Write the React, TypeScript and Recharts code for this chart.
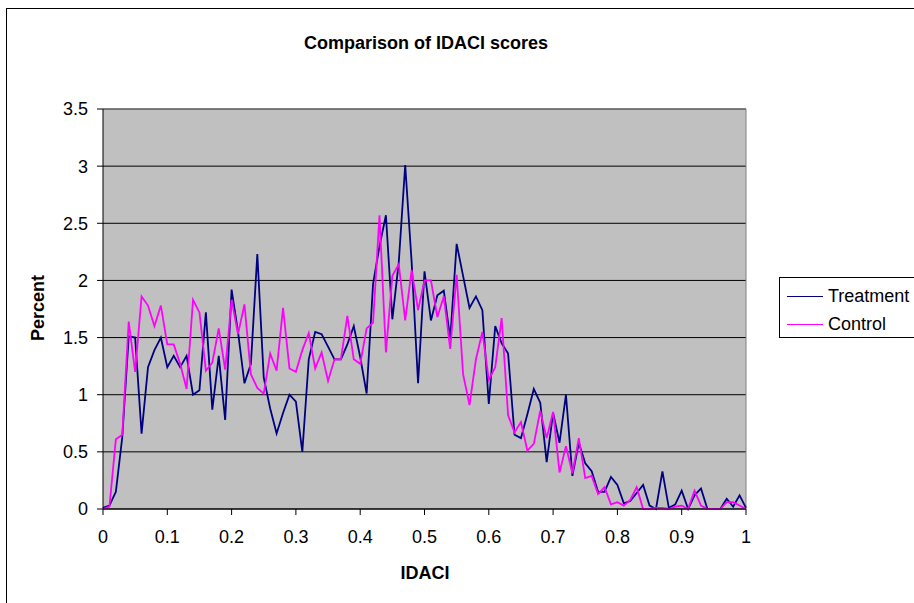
import { LineChart, Line, XAxis, YAxis, CartesianGrid, ReferenceLine } from 'recharts'

const IDACI = [
  0, 0.01, 0.02, 0.03, 0.04, 0.05, 0.06, 0.07, 0.08, 0.09,
  0.1, 0.11, 0.12, 0.13, 0.14, 0.15, 0.16, 0.17, 0.18, 0.19,
  0.2, 0.21, 0.22, 0.23, 0.24, 0.25, 0.26, 0.27, 0.28, 0.29,
  0.3, 0.31, 0.32, 0.33, 0.34, 0.35, 0.36, 0.37, 0.38, 0.39,
  0.4, 0.41, 0.42, 0.43, 0.44, 0.45, 0.46, 0.47, 0.48, 0.49,
  0.5, 0.51, 0.52, 0.53, 0.54, 0.55, 0.56, 0.57, 0.58, 0.59,
  0.6, 0.61, 0.62, 0.63, 0.64, 0.65, 0.66, 0.67, 0.68, 0.69,
  0.7, 0.71, 0.72, 0.73, 0.74, 0.75, 0.76, 0.77, 0.78, 0.79,
  0.8, 0.81, 0.82, 0.83, 0.84, 0.85, 0.86, 0.87, 0.88, 0.89,
  0.9, 0.91, 0.92, 0.93, 0.94, 0.95, 0.96, 0.97, 0.98, 0.99,
  1,
]

const TREATMENT = [
  0.01, 0.03, 0.15, 0.63, 1.51, 1.5, 0.66, 1.24, 1.39, 1.5,
  1.24, 1.34, 1.24, 1.34, 1.0, 1.04, 1.72, 0.87, 1.34, 0.78,
  1.92, 1.55, 1.1, 1.27, 2.23, 1.15, 0.88, 0.66, 0.84, 1.0,
  0.94, 0.5, 1.31, 1.55, 1.53, 1.42, 1.31, 1.31, 1.44, 1.6,
  1.33, 1.01, 1.97, 2.3, 2.57, 1.66, 2.16, 3.01, 2.16, 1.1,
  2.08, 1.65, 1.87, 1.91, 1.49, 2.32, 2.04, 1.76, 1.86, 1.74,
  0.92, 1.6, 1.45, 1.36, 0.65, 0.62, 0.83, 1.05, 0.93, 0.41,
  0.84, 0.58, 1.0, 0.29, 0.58, 0.4, 0.33, 0.15, 0.15, 0.28,
  0.21, 0.05, 0.07, 0.14, 0.21, 0.03, 0, 0.33, 0.01, 0.04,
  0.16, 0, 0.12, 0.18, 0, 0, 0, 0.09, 0.02, 0.12,
  0.01,
]

const CONTROL = [
  0, 0.02, 0.61, 0.65, 1.64, 1.2, 1.86, 1.78, 1.6, 1.78,
  1.44, 1.44, 1.27, 1.05, 1.83, 1.72, 1.21, 1.28, 1.58, 1.22,
  1.83, 1.53, 1.79, 1.18, 1.06, 1.01, 1.36, 1.21, 1.76, 1.23,
  1.2, 1.39, 1.54, 1.23, 1.37, 1.12, 1.31, 1.31, 1.69, 1.31,
  1.27, 1.58, 1.63, 2.57, 1.37, 2.04, 2.14, 1.65, 2.09, 1.74,
  2.0, 2.0, 1.68, 1.86, 1.4, 2.05, 1.18, 0.91, 1.31, 1.55,
  1.13, 1.24, 1.67, 0.82, 0.67, 0.76, 0.51, 0.57, 0.86, 0.62,
  0.85, 0.32, 0.55, 0.31, 0.62, 0.27, 0.29, 0.13, 0.19, 0.04,
  0.06, 0.03, 0.08, 0.19, 0, 0, 0.01, 0.01, 0, 0.02,
  0.03, 0, 0.16, 0.03, 0, 0, 0, 0.06, 0.06, 0.03,
  0,
]

const X_TICKS = [0, 0.1, 0.2, 0.3, 0.4, 0.5, 0.6, 0.7, 0.8, 0.9, 1]
const Y_TICKS = [0, 0.5, 1, 1.5, 2, 2.5, 3, 3.5]

const SERIES = [
  { key: 'treatment', name: 'Treatment', color: '#000080' },
  { key: 'control', name: 'Control', color: '#FF00FF' },
]

const rows = IDACI.map((x, i) => ({ idaci: x, treatment: TREATMENT[i], control: CONTROL[i] }))

const FONT = 'Arial, "Liberation Sans", Helvetica, sans-serif'

export default function App() {
  const tick = { fontSize: 18, fill: '#000', fontFamily: FONT }

  return (
    <div style={{ position: 'absolute', left: 0, top: 0, width: 914, height: 603, background: '#fff', overflow: 'hidden', fontFamily: FONT }}>
      <div style={{ position: 'absolute', left: 6, top: 8, width: 940, height: 640, border: '1px solid #000' }} />
      <div style={{ position: 'absolute', left: 0, top: 32, width: 852, textAlign: 'center', fontSize: 18, fontWeight: 'bold', lineHeight: '22px' }}>
        Comparison of IDACI scores
      </div>

      <div style={{ position: 'absolute', left: 0, top: 0 }}>
        <LineChart width={914} height={603} data={rows} margin={{ top: 109, right: 168, bottom: 64, left: 43 }}>
          <CartesianGrid fill="#C0C0C0" fillOpacity={1} stroke="#000" vertical={false} />
          <ReferenceLine y={3.5} stroke="#808080" />
          <ReferenceLine x={1} stroke="#808080" />
          <XAxis
            dataKey="idaci"
            type="number"
            domain={[0, 1]}
            ticks={X_TICKS}
            height={30}
            tick={tick}
            tickSize={6}
            tickMargin={15}
            stroke="#000"
            axisLine={{ stroke: '#000' }}
            tickLine={{ stroke: '#000' }}
          />
          <YAxis
            type="number"
            domain={[0, 3.5]}
            ticks={Y_TICKS}
            width={60}
            tick={tick}
            tickSize={6}
            tickMargin={9}
            axisLine={{ stroke: '#000' }}
            tickLine={{ stroke: '#000' }}
          />
          {SERIES.map((s) => (
            <Line key={s.key} type="linear" dataKey={s.key} name={s.name} stroke={s.color} strokeWidth={1.8} dot={false} isAnimationActive={false} />
          ))}
        </LineChart>
      </div>

      <div style={{ position: 'absolute', left: 38, top: 308, transform: 'translate(-50%, -50%) rotate(-90deg)', fontSize: 18, fontWeight: 'bold', whiteSpace: 'nowrap' }}>
        Percent
      </div>
      <div style={{ position: 'absolute', left: 425, top: 573, transform: 'translate(-50%, -50%)', fontSize: 18, fontWeight: 'bold' }}>
        IDACI
      </div>

      <div style={{ position: 'absolute', left: 779, top: 277, width: 200, height: 61, border: '1px solid #000', background: '#fff', boxSizing: 'border-box' }}>
        {SERIES.map((s, i) => (
          <div key={s.key} style={{ position: 'absolute', left: 7, top: 7 + i * 28, height: 22, display: 'flex', alignItems: 'center', fontSize: 18 }}>
            <span style={{ display: 'inline-block', width: 36, height: 0, borderTop: `1.5px solid ${s.color}`, marginRight: 5 }} />
            <span>{s.name}</span>
          </div>
        ))}
      </div>
    </div>
  )
}
